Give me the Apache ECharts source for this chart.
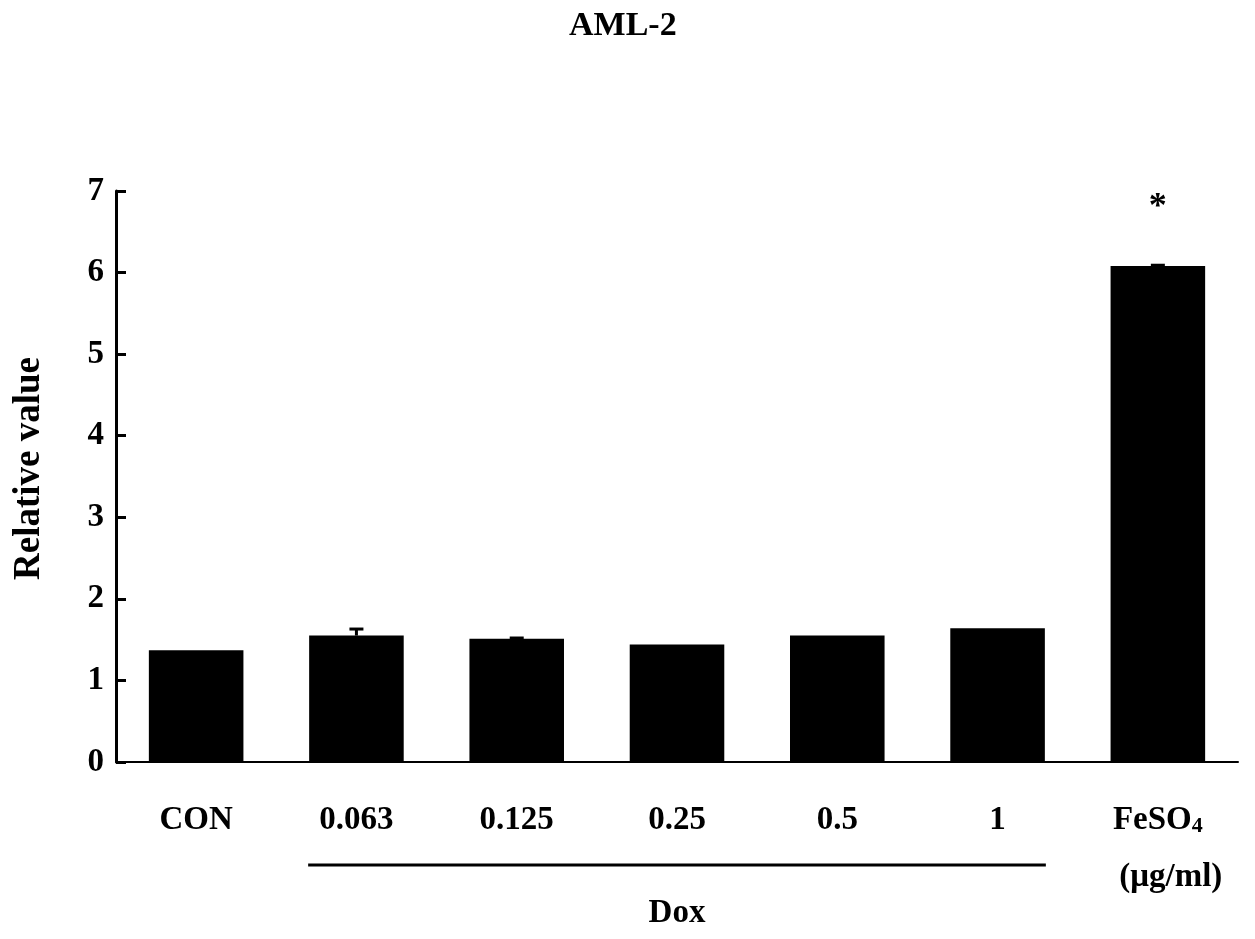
<!DOCTYPE html>
<html><head><meta charset="utf-8">
<script src="https://cdn.jsdelivr.net/npm/echarts@6/dist/echarts.min.js"></script>
<style>html,body{margin:0;padding:0;background:#fff}#c{width:1255px;height:939px}</style>
</head><body><div id="c"></div>
<script>
var categories = ['CON', '0.063', '0.125', '0.25', '0.5', '1', 'FeSO4'];
var values = [1.37, 1.55, 1.51, 1.44, 1.55, 1.64, 6.08];
var errors = [0, 0.08, 0.01, 0, 0, 0, 0.01];
var signif = ['', '', '', '', '', '', '*'];
var yTicks = [0, 1, 2, 3, 4, 5, 6, 7];
var groupName = 'Dox';
var groupFirst = '0.063', groupLast = '1';
var unitLabel = '(\u03bcg/ml)';

var FONT = "'Liberation Serif','Times New Roman',serif";
var BAR_W = 0.59;
var chart = echarts.init(document.getElementById('c'));
var errData = categories.map(function (c, i) { return [i, values[i], errors[i], signif[i]]; });

chart.setOption({
  animation: false,
  backgroundColor: '#fff',
  title: { text: 'AML-2', left: 564, top: 4,
    textStyle: { fontFamily: FONT, fontWeight: 'bold', fontSize: 34, color: '#000' } },
  grid: { left: 116, right: 17, top: 191, bottom: 177 },
  xAxis: {
    type: 'category', data: categories,
    axisLine: { lineStyle: { color: '#000', width: 2 } },
    axisTick: { show: false },
    axisLabel: {
      margin: 30, interval: 0,
      fontFamily: FONT, fontWeight: 'bold', fontSize: 33, color: '#000', lineHeight: 57,
      formatter: function (v) {
        if (v === 'FeSO4') return '{m|FeSO}{s|4}\n{u|' + unitLabel + '}';
        return '{m|' + v + '}';
      },
      rich: {
        m: { fontFamily: FONT, fontWeight: 'bold', fontSize: 33, color: '#000', lineHeight: 57 },
        u: { fontFamily: FONT, fontWeight: 'bold', fontSize: 33, color: '#000', lineHeight: 57, padding: [0, 0, 0, 26] },
        s: { fontFamily: FONT, fontWeight: 'bold', fontSize: 22, color: '#000', lineHeight: 57, padding: [12, 0, 0, 0] }
      }
    }
  },
  yAxis: {
    type: 'value', min: 0, max: 7, interval: 1,
    name: 'Relative value', nameLocation: 'middle', nameGap: 68, nameRotate: 90,
    nameTextStyle: { fontFamily: FONT, fontWeight: 'bold', fontSize: 37, color: '#000', padding: [0, 0, 0, 16] },
    axisLine: { show: true, lineStyle: { color: '#000', width: 3 } },
    axisTick: { show: true, inside: true, length: 10, lineStyle: { color: '#000', width: 3 } },
    splitLine: { show: false },
    axisLabel: { margin: 12, fontFamily: FONT, fontWeight: 'bold', fontSize: 33, color: '#000',
      formatter: function (v) { return yTicks.indexOf(v) >= 0 ? String(v) : ''; } }
  },
  series: [
    { type: 'bar', data: values, barWidth: (BAR_W * 100) + '%', itemStyle: { color: '#000' } },
    { type: 'custom', data: errData, z: 5,
      renderItem: function (params, api) {
        var x = api.value(0), v = api.value(1), e = api.value(2), s = api.value(3);
        var top = api.coord([x, v + e]);
        var base = api.coord([x, v]);
        var children = [];
        if (e > 0) {
          children.push({ type: 'line', shape: { x1: top[0], y1: top[1], x2: base[0], y2: base[1] }, style: { stroke: '#000', lineWidth: 3 } });
          children.push({ type: 'line', shape: { x1: top[0] - 7, y1: top[1], x2: top[0] + 7, y2: top[1] }, style: { stroke: '#000', lineWidth: 3 } });
        }
        if (s) {
          children.push({ type: 'text', style: { text: s, x: top[0], y: top[1] - 58, align: 'center', verticalAlign: 'middle',
            font: 'bold 36px ' + FONT, fill: '#000' } });
        }
        return { type: 'group', children: children };
      }
    }
  ]
});

// Dox group bracket computed from the category scale
var i1 = categories.indexOf(groupFirst), i2 = categories.indexOf(groupLast);
var p1 = chart.convertToPixel({ xAxisIndex: 0 }, groupFirst);
var p2 = chart.convertToPixel({ xAxisIndex: 0 }, groupLast);
var half = BAR_W * (p2 - p1) / (i2 - i1) / 2 + 1;
var x1 = p1 - half, x2 = p2 + half;
chart.setOption({
  graphic: [
    { type: 'line', shape: { x1: x1, y1: 865, x2: x2, y2: 865 }, style: { stroke: '#000', lineWidth: 3 } },
    { type: 'text', x: (x1 + x2) / 2, y: 913, style: { text: groupName, align: 'center', verticalAlign: 'middle',
      font: 'bold 33px ' + FONT, fill: '#000' } }
  ]
});
</script></body></html>
